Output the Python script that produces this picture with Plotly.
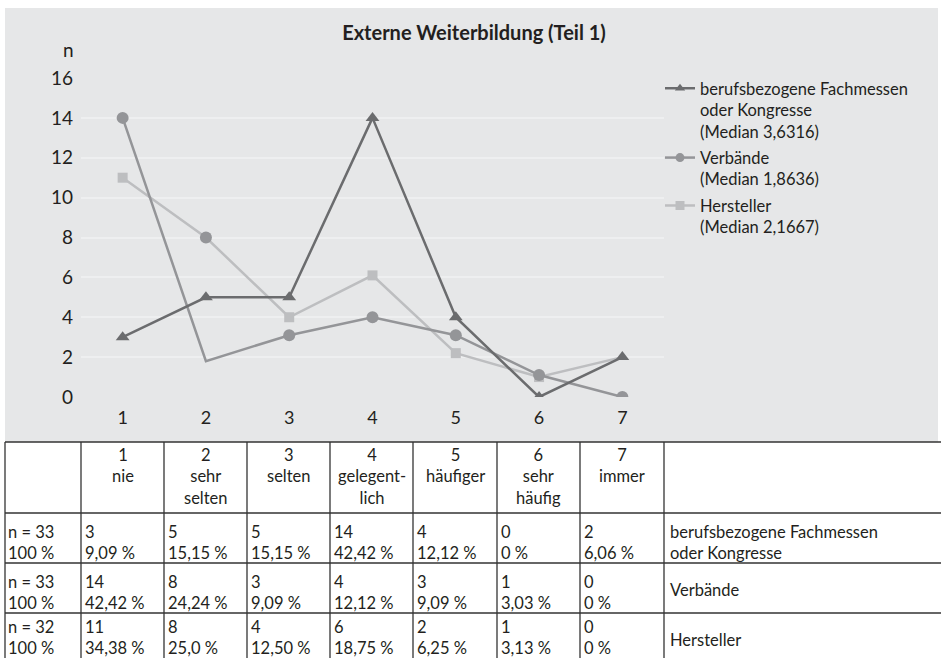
import plotly.graph_objects as go

# ---- chart data -------------------------------------------------------
categories = [1, 2, 3, 4, 5, 6, 7]

fach_values = [3, 5, 5, 14, 4, 0, 2]

verb_line = [14, 1.8, 3.1, 4, 3.1, 1.1, 0]
verb_markers = [14, 8, 3.1, 4, 3.1, 1.1, 0]

herst_line = [11, 8, 4, 6.1, 2.2, 1, 2]
herst_markers = [11, None, 4, 6.1, 2.2, 1, None]

legend_names = [
    "berufsbezogene Fachmessen<br>oder Kongresse<br>(Median 3,6316)",
    "Verbände<br>(Median 1,8636)",
    "Hersteller<br>(Median 2,1667)",
]

y_ticks = [0, 2, 4, 6, 8, 10, 12, 14, 16]

# ---- table data -------------------------------------------------------
scale_numbers = ["1", "2", "3", "4", "5", "6", "7"]
scale_words = [["nie"], ["sehr", "selten"], ["selten"], ["gelegent-", "lich"],
               ["häufiger"], ["sehr", "häufig"], ["immer"]]

row_n = ["n = 33", "n = 33", "n = 32"]
row_total = ["100 %", "100 %", "100 %"]
fach_counts = [3, 5, 5, 14, 4, 0, 2]
fach_pct = ["9,09 %", "15,15 %", "15,15 %", "42,42 %", "12,12 %", "0 %", "6,06 %"]
verb_counts = [14, 8, 3, 4, 3, 1, 0]
verb_pct = ["42,42 %", "24,24 %", "9,09 %", "12,12 %", "9,09 %", "3,03 %", "0 %"]
herst_counts = [11, 8, 4, 6, 2, 1, 0]
herst_pct = ["34,38 %", "25,0 %", "12,50 %", "18,75 %", "6,25 %", "3,13 %", "0 %"]
row_labels = [["berufsbezogene Fachmessen", "oder Kongresse"], ["Verbände"], ["Hersteller"]]

# ---- page geometry (pixels) -------------------------------------------
W, H = 941, 658
FONT = "Lato, Liberation Sans, sans-serif"
TXT = "#231f20"
TABLE_SIZE = 16.5
LINE_H = TABLE_SIZE * 1.3


def fx(x):
    return x / W


def fy(y):
    return 1 - y / H


C_DARK = "#6b6c6e"
C_MID = "#949598"
C_LIGHT = "#bdbec0"

fig = go.Figure()

# Hersteller
fig.add_trace(go.Scatter(x=categories, y=herst_line, mode="lines",
                         line=dict(color=C_LIGHT, width=2.5), showlegend=False,
                         hoverinfo="skip"))
fig.add_trace(go.Scatter(x=categories, y=herst_markers, mode="markers",
                         marker=dict(symbol="square", size=10, color=C_LIGHT),
                         showlegend=False))
# Verbände
fig.add_trace(go.Scatter(x=categories, y=verb_line, mode="lines",
                         line=dict(color=C_MID, width=2.5), showlegend=False,
                         hoverinfo="skip"))
fig.add_trace(go.Scatter(x=categories, y=verb_markers, mode="markers",
                         marker=dict(symbol="circle", size=12, color=C_MID),
                         showlegend=False))
# Fachmessen
fig.add_trace(go.Scatter(x=categories, y=fach_values, mode="lines+markers",
                         line=dict(color=C_DARK, width=2.5),
                         marker=dict(symbol="triangle-up", size=12, color=C_DARK),
                         showlegend=False))

# legend entries
for name, sym, col in zip(legend_names, ["triangle-up", "circle", "square"],
                          [C_DARK, C_MID, C_LIGHT]):
    fig.add_trace(go.Scatter(x=[None], y=[None], mode="lines+markers", name=name,
                             legendgroup=name,
                             line=dict(color=col, width=2.5),
                             marker=dict(symbol=sym, size=9, color=col)))

shapes = []
# light grey panel behind the chart
shapes.append(dict(type="rect", xref="paper", yref="paper",
                   x0=fx(5), x1=fx(938), y0=fy(442), y1=fy(8),
                   fillcolor="#e6e7e8", line=dict(width=0), layer="below"))

# ---- table ------------------------------------------------------------
col_edges = [5, 81, 164, 247, 330, 413, 497, 580, 664, 941]
row_edges = [442, 513, 563, 613]
LC = "#333333"
for yy in row_edges:
    shapes.append(dict(type="line", xref="paper", yref="paper",
                       x0=fx(5), x1=fx(941), y0=fy(yy), y1=fy(yy),
                       line=dict(color=LC, width=1.3)))
for xx in col_edges[:-1]:
    shapes.append(dict(type="line", xref="paper", yref="paper",
                       x0=fx(xx), x1=fx(xx), y0=fy(442), y1=0,
                       line=dict(color=LC, width=1.3)))

annotations = []


def cell_text(lines, x, first_line_y, align="left"):
    """Place a multi-line cell text with its first line near first_line_y."""
    mid = first_line_y + (len(lines) - 1) * LINE_H / 2
    annotations.append(dict(text="<br>".join(lines), x=fx(x), y=fy(mid),
                            xref="paper", yref="paper", align=align,
                            xanchor=align, yanchor="middle", showarrow=False,
                            borderpad=0,
                            font=dict(family=FONT, size=TABLE_SIZE, color=TXT)))


# header row
for i, (num, words) in enumerate(zip(scale_numbers, scale_words)):
    cx = (col_edges[i + 1] + col_edges[i + 2]) / 2
    cell_text([num] + words, cx, 455, align="center")

# body rows (the last row sits against the page bottom, so it is lifted a little)
body = [(fach_counts, fach_pct), (verb_counts, verb_pct), (herst_counts, herst_pct)]
first_line_offsets = [19, 19, 14]
for r, (counts, pcts) in enumerate(body):
    top = row_edges[r + 1]
    l1 = top + first_line_offsets[r]
    cell_text([row_n[r], row_total[r]], col_edges[0] + 2, l1)
    for c in range(7):
        cell_text([str(counts[c]), pcts[c]], col_edges[c + 1] + 3, l1)
    lab = row_labels[r]
    if len(lab) == 2:
        cell_text(lab, col_edges[8] + 5, l1)
    else:
        cell_text(lab, col_edges[8] + 5, top + 27)

# axis caption "n"
annotations.append(dict(text="n", x=fx(68), y=fy(50), xref="paper", yref="paper",
                        xanchor="center", yanchor="middle", showarrow=False,
                        font=dict(family=FONT, size=19, color=TXT)))

fig.update_layout(
    width=W, height=H, autosize=False,
    margin=dict(l=0, r=0, t=0, b=0, pad=0),
    paper_bgcolor="white",
    plot_bgcolor="#d9dadc",
    font=dict(family=FONT, color=TXT),
    title=dict(text="<b>Externe Weiterbildung (Teil 1)</b>", x=fx(474), y=fy(33),
               xanchor="center", yanchor="middle", automargin=False,
               font=dict(family=FONT, size=20, color=TXT)),
    xaxis=dict(domain=[fx(81), fx(664)], range=[0.5, 7.5], tickvals=categories,
               showgrid=False, zeroline=False, showline=False, ticks="",
               tickfont=dict(size=18, color=TXT), ticklabelstandoff=8,
               automargin=False, fixedrange=True),
    yaxis=dict(domain=[fy(397), fy(78)], range=[0, 16], tickvals=y_ticks,
               showgrid=True, gridcolor="#eeeff0", gridwidth=2,
               zeroline=False, showline=False, ticks="",
               tickfont=dict(size=19, color=TXT), ticklabelstandoff=7,
               automargin=False, fixedrange=True),
    legend=dict(x=fx(660), y=fy(71), xanchor="left", yanchor="top", valign="top",
                bgcolor="rgba(0,0,0,0)", font=dict(family=FONT, size=16.5, color=TXT),
                tracegroupgap=2, itemclick=False, itemdoubleclick=False),
    shapes=shapes,
    annotations=annotations,
    showlegend=True,
)

fig.write_html("out.html", config={"displayModeBar": False})
